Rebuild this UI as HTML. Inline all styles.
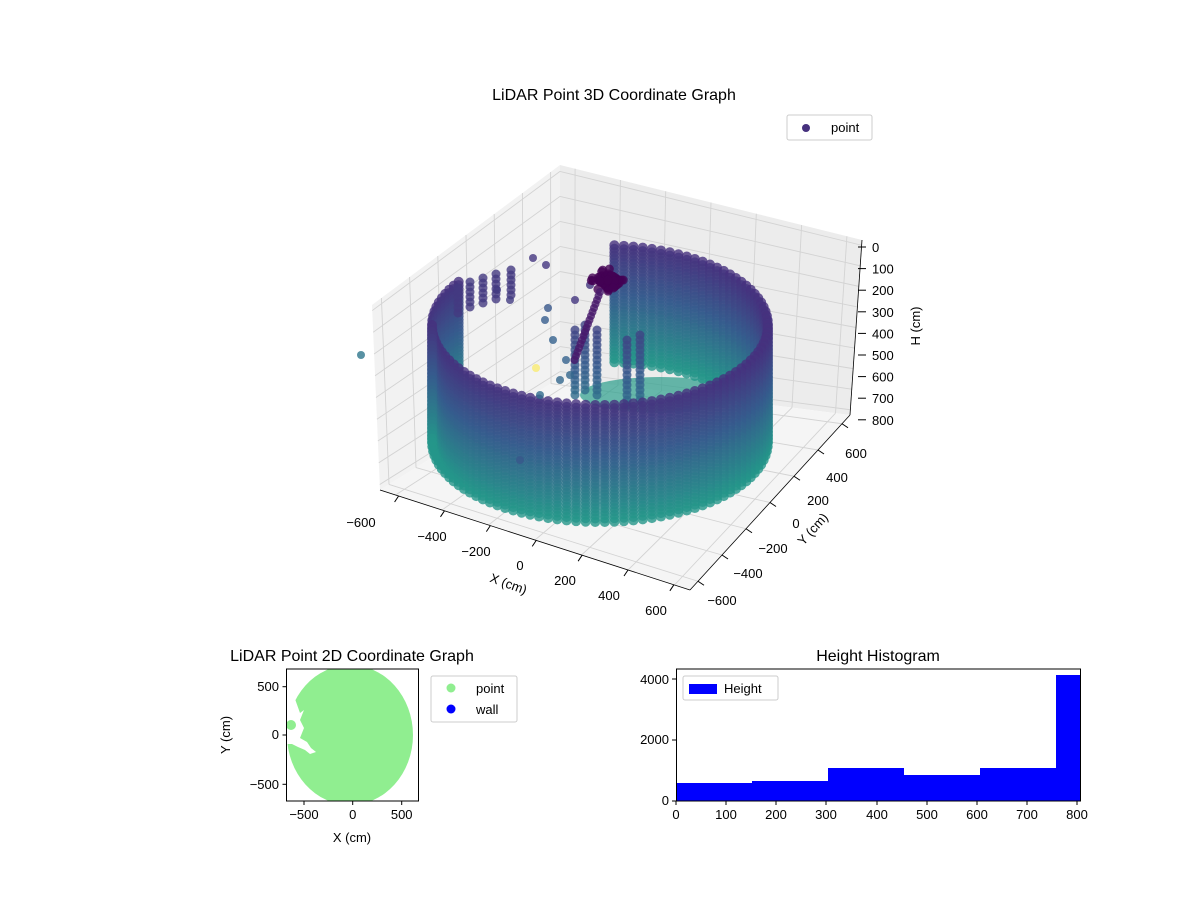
<!DOCTYPE html>
<html><head><meta charset="utf-8"><style>
body{margin:0;background:#fff;}
svg text{font-family:"Liberation Sans",sans-serif;font-size:13px;fill:#000;}
</style></head><body>
<svg id="s" width="1200" height="900" xmlns="http://www.w3.org/2000/svg">
<rect width="1200" height="900" fill="#fff"/>
<g id="panes"></g>
<g id="grid" stroke="#d3d3d3" stroke-width="0.9" fill="none"></g>
<g id="dots"></g>
<text x="614" y="100" text-anchor="middle" style="font-size:16px">LiDAR Point 3D Coordinate Graph</text>
<rect x="787" y="115" width="85" height="25" fill="#fff" stroke="#ccc" rx="2"/>
<circle cx="806" cy="128" r="4" fill="#46317e"/>
<text x="831" y="132">point</text>
<g id="ticks"></g>

<!-- 2D -->
<text x="352" y="661" text-anchor="middle" style="font-size:16px">LiDAR Point 2D Coordinate Graph</text>
<clipPath id="c2"><rect x="286.5" y="669" width="132" height="132"/></clipPath>
<g clip-path="url(#c2)">
<ellipse cx="350" cy="735" rx="63" ry="70" fill="#90ee90"/>
<path d="M286,700 L291,706 L295,699 L300,713 L304,710 L300,720 L304,728 L300,738 L307,742 L311,748 L316,752 L310,754 L305,750 L298,747 L292,744 L286,744 Z" fill="#fff"/>
<circle cx="291" cy="725" r="5" fill="#90ee90"/>
</g>
<rect x="286.5" y="669" width="132" height="132" fill="none" stroke="#000" stroke-width="1"/>
<g stroke="#000"><line x1="304" y1="801" x2="304" y2="805"/><line x1="352.7" y1="801" x2="352.7" y2="805"/><line x1="401.7" y1="801" x2="401.7" y2="805"/>
<line x1="286.5" y1="686.7" x2="282.5" y2="686.7"/><line x1="286.5" y1="735" x2="282.5" y2="735"/><line x1="286.5" y1="784.3" x2="282.5" y2="784.3"/></g>
<text x="304" y="819" text-anchor="middle">−500</text><text x="352.7" y="819" text-anchor="middle">0</text><text x="401.7" y="819" text-anchor="middle">500</text>
<text x="279" y="691" text-anchor="end">500</text><text x="279" y="739" text-anchor="end">0</text><text x="279" y="789" text-anchor="end">−500</text>
<text x="352" y="842" text-anchor="middle">X (cm)</text>
<text transform="translate(230,735) rotate(-90)" text-anchor="middle">Y (cm)</text>
<rect x="431" y="676" width="86" height="46" fill="#fff" stroke="#ccc" rx="2"/>
<circle cx="451" cy="688" r="4.5" fill="#90ee90"/><text x="476" y="693">point</text>
<circle cx="451" cy="709" r="4.5" fill="#0000ff"/><text x="476" y="714">wall</text>

<!-- Histogram -->
<text x="878" y="661" text-anchor="middle" style="font-size:16px">Height Histogram</text>
<g fill="#0000ff">
<rect x="676" y="783" width="76" height="18"/>
<rect x="752" y="781" width="76" height="20"/>
<rect x="828" y="768" width="76" height="33"/>
<rect x="904" y="775" width="76" height="26"/>
<rect x="980" y="768" width="76" height="33"/>
<rect x="1056" y="675" width="24" height="126"/>
</g>
<rect x="676.5" y="669" width="404" height="132" fill="none" stroke="#000"/>
<g stroke="#000">
<line x1="676" y1="801" x2="676" y2="805"/><line x1="726" y1="801" x2="726" y2="805"/><line x1="776" y1="801" x2="776" y2="805"/><line x1="826" y1="801" x2="826" y2="805"/><line x1="877" y1="801" x2="877" y2="805"/><line x1="927" y1="801" x2="927" y2="805"/><line x1="977" y1="801" x2="977" y2="805"/><line x1="1027" y1="801" x2="1027" y2="805"/><line x1="1077" y1="801" x2="1077" y2="805"/>
<line x1="676" y1="801" x2="672" y2="801"/><line x1="676" y1="740" x2="672" y2="740"/><line x1="676" y1="679" x2="672" y2="679"/></g>
<g text-anchor="middle"><text x="676" y="819">0</text><text x="726" y="819">100</text><text x="776" y="819">200</text><text x="826" y="819">300</text><text x="877" y="819">400</text><text x="927" y="819">500</text><text x="977" y="819">600</text><text x="1027" y="819">700</text><text x="1077" y="819">800</text></g>
<g text-anchor="end"><text x="669" y="805">0</text><text x="669" y="744">2000</text><text x="669" y="684">4000</text></g>
<rect x="683" y="676" width="95" height="24" fill="#fff" stroke="#ccc" rx="2"/>
<rect x="689" y="684" width="28" height="10" fill="#0000ff"/><text x="724" y="693">Height</text>
</svg>
<script>
var NS="http://www.w3.org/2000/svg";
function el(p,t,a){var e=document.createElementNS(NS,t);for(var k in a)e.setAttribute(k,a[k]);p.appendChild(e);return e;}
var L=[380,490],LT=[372,305],BT=[560,165],B=[560,378],RT=[862,240],R=[850,415],F=[690,590];
function lerp(a,b,t){return [a[0]+(b[0]-a[0])*t,a[1]+(b[1]-a[1])*t];}
var panes=document.getElementById('panes');
function poly(pts,fill){el(panes,'polygon',{points:pts.map(p=>p.join(',')).join(' '),fill:fill});}
poly([L,LT,BT,B],'#f2f2f2');poly([B,BT,RT,R],'#ececec');poly([L,B,R,F],'#f5f5f5');
var g=document.getElementById('grid');
function ln(a,b){el(g,'line',{x1:a[0],y1:a[1],x2:b[0],y2:b[1]});}
for(var i=0;i<9;i++){var f=0.03+i*0.1175;
 ln(lerp(LT,L,f),lerp(BT,B,f));ln(lerp(BT,B,f),lerp(RT,R,f));}
for(var i=0;i<7;i++){var f=0.05+i*0.15;
 var a=lerp(L,B,1-f), b=lerp(LT,BT,1-f); ln(a,b); ln(a,lerp(F,R,1-f));
 var c=lerp(B,R,f), d=lerp(BT,RT,f); ln(c,d); ln(c,lerp(L,F,f));}
var t=document.getElementById('ticks');
function tx(x,y,s,anc,rot){var e=el(t,'text',{x:x,y:y,'text-anchor':anc||'middle'});if(rot)e.setAttribute('transform','rotate('+rot+' '+x+' '+y+')');e.textContent=s;}
el(t,'line',{x1:L[0],y1:L[1],x2:F[0],y2:F[1],stroke:'#000','stroke-width':0.8});
el(t,'line',{x1:F[0],y1:F[1],x2:R[0],y2:R[1],stroke:'#000','stroke-width':0.8});
el(t,'line',{x1:RT[0],y1:RT[1],x2:R[0],y2:R[1],stroke:'#000','stroke-width':0.8});
var hz=['0','100','200','300','400','500','600','700','800'];
for(var i=0;i<9;i++){var y=247+i*21.6;el(t,'line',{x1:858,y1:y,x2:866,y2:y,stroke:'#000'});tx(872,y+5,hz[i],'start');}
tx(920,326,'H (cm)','middle',-90);
var xl=['−600','−400','−200','0','200','400','600'],xp=[[361,522],[432,536],[476,551],[520,565],[565,580],[609,595],[656,610]];
for(var i=0;i<7;i++){tx(xp[i][0],xp[i][1]+5,xl[i]);var p=lerp(L,F,0.06+i*0.148);el(t,'line',{x1:p[0],y1:p[1],x2:p[0]-4,y2:p[1]+6,stroke:'#000'});}
tx(507,588,'X (cm)','middle',20);
var yl=['600','400','200','0','−200','−400','−600'],yp=[[856,453],[837,477],[818,500],[796,523],[773,548],[748,573],[722,600]];
for(var i=0;i<7;i++){tx(yp[i][0],yp[i][1]+5,yl[i]);var p=lerp(R,F,0.05+i*0.15);el(t,'line',{x1:p[0],y1:p[1],x2:p[0]+6,y2:p[1]+4,stroke:'#000'});}
tx(816,532,'Y (cm)','middle',-48);
var D=document.getElementById('dots');
var cs=[[70,49,126],[54,92,141],[36,150,138]];
function col(u){var a,b,k;if(u<0.45){a=cs[0];b=cs[1];k=u/0.45;}else{a=cs[1];b=cs[2];k=(u-0.45)/0.55;}
 return 'rgb('+[0,1,2].map(j=>Math.round(a[j]+(b[j]-a[j])*k)).join(',')+')';}
var cx=600,rx=168,ry=80,yt=325,yb=442,N=110,Z=34;
function col3(th){for(var k=0;k<=Z;k++){var u=k/Z;var x=cx+rx*Math.cos(th),y=yt+(yb-yt)*u+ry*Math.sin(th);
 el(D,'circle',{cx:x,cy:y,r:5,fill:col(u),'fill-opacity':0.8});}}
// inner floor teal patch
el(D,'ellipse',{cx:660,cy:395,rx:80,ry:18,fill:'#2a9d8a','fill-opacity':0.7});
for(var i=0;i<N;i++){var th=2*Math.PI*i/N;if(Math.sin(th)<0){var x=cx+rx*Math.cos(th);if(x>462&&x<612)continue;col3(th);}}
// back-left partial columns
[[478,278],[490,272],[503,268],[516,264],[531,260]].forEach(function(p){for(var k=0;k<6;k++)el(D,'circle',{cx:p[0]-20,cy:p[1]+k*5+10,r:4.5,fill:col(0.08),'fill-opacity':0.8});});
[[575,330],[585,325],[597,330],[627,340],[640,335]].forEach(function(p){for(var k=0;k<14;k++)el(D,'circle',{cx:p[0],cy:p[1]+k*5,r:4.5,fill:col(0.2+k*0.03),'fill-opacity':0.8});});
for(var i=0;i<N;i++){var th=2*Math.PI*i/N;if(Math.sin(th)>=0)col3(th);}
var sc=[[497,290,0.1],[510,300,0.12],[533,258,0.05],[546,265,0.05],[548,308,0.4],[545,320,0.45],[553,340,0.5],[566,360,0.5],[540,395,0.6],[361,355,0.7],[590,285,0.05],[575,300,0.05],[560,380,0.55],[570,375,0.55],[520,460,0.4]];
sc.forEach(function(p){el(D,'circle',{cx:p[0],cy:p[1],r:4,fill:col(p[2]),'fill-opacity':0.8});});
el(D,'circle',{cx:536,cy:368,r:4,fill:'#fde725','fill-opacity':0.5});
for(var i=0;i<60;i++){var a=i*0.7;el(D,'circle',{cx:607+Math.cos(a)*(i%10)*1.8,cy:280+Math.sin(a)*(i%8)*1.6,r:4.5,fill:'#440154','fill-opacity':0.8});}
for(var i=0;i<18;i++){el(D,'circle',{cx:600-i*1.5,cy:292+i*4,r:4,fill:'#481a6c','fill-opacity':0.8});}
</script>
</body></html>
